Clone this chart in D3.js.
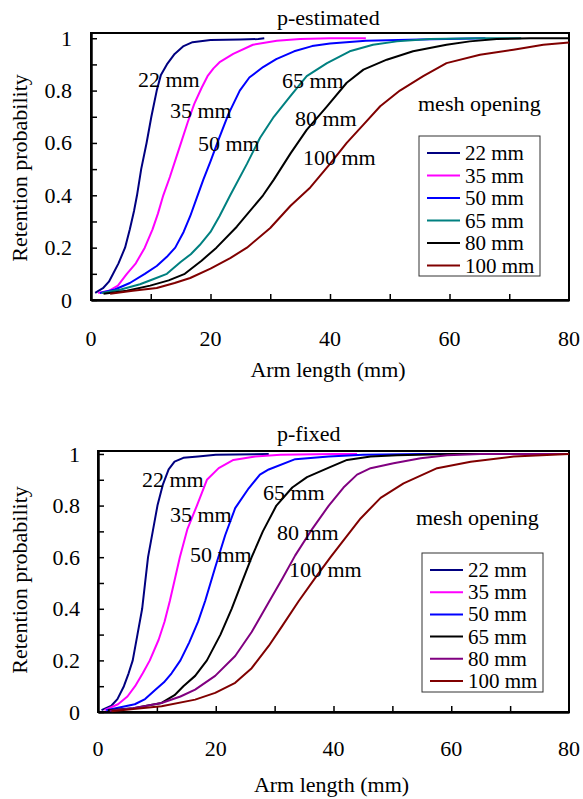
<!DOCTYPE html>
<html>
<head>
<meta charset="utf-8">
<script src="https://cdn.jsdelivr.net/npm/d3@7"></script>
<style>
  body { margin: 0; background: #fff; }
  svg text { font-family: "Liberation Serif", "Times New Roman", serif; font-size: 22px; fill: #000; }
  svg text.leg { font-size: 21px; }
</style>
</head>
<body>
<svg id="chart" width="583" height="799"></svg>
<script>
// mesh openings (legend / series names)
const meshes = ["22 mm", "35 mm", "50 mm", "65 mm", "80 mm", "100 mm"];

// p-estimated : [arm length (mm), retention probability]
const est22 = [[0.7,0.027],[2,0.045],[3,0.07],[3.7,0.1],[4.6,0.14],[5.7,0.2],[6.5,0.27],[7.2,0.34],[7.7,0.4],[8.4,0.5],[9.3,0.6],[10.1,0.7],[11,0.8],[11.7,0.86],[12.7,0.9],[14,0.94],[15.5,0.97],[17,0.985],[20,0.993],[25,0.995],[28,0.997],[29,1]];
const est35 = [[1.2,0.027],[3,0.035],[4.5,0.055],[6,0.1],[7.5,0.14],[9,0.2],[10.3,0.27],[11.2,0.33],[12.1,0.4],[13.2,0.47],[14.2,0.54],[15.2,0.61],[16.2,0.68],[17.3,0.75],[18.5,0.81],[19.5,0.855],[20.5,0.885],[21.6,0.91],[23.8,0.94],[27.1,0.975],[31.1,0.99],[35,0.997],[40,1],[46,1]];
const est50 = [[1.5,0.027],[4,0.04],[6.5,0.065],[9,0.1],[11,0.13],[12.7,0.165],[14.1,0.2],[15.5,0.26],[16.6,0.32],[17.7,0.39],[18.8,0.46],[20,0.53],[21.3,0.61],[23,0.71],[24.9,0.8],[26.5,0.85],[28.8,0.89],[31,0.92],[34,0.95],[37,0.97],[40,0.98],[46,0.99],[55,0.995],[66,1]];
const est65 = [[1.8,0.027],[5,0.04],[8.2,0.06],[10.5,0.08],[12.7,0.1],[15,0.145],[16.7,0.175],[18.2,0.21],[20,0.26],[21.5,0.32],[23.3,0.4],[26.1,0.52],[28.3,0.62],[30.6,0.7],[33.4,0.78],[36.1,0.855],[39.5,0.905],[43.3,0.95],[47.2,0.975],[51.2,0.988],[56.7,0.997],[65,1],[72,1]];
const est80 = [[2.1,0.024],[6,0.035],[9.9,0.055],[13,0.075],[15.7,0.1],[18.5,0.15],[21,0.2],[24.4,0.28],[28.8,0.4],[30.6,0.46],[33.4,0.56],[36.1,0.65],[39.5,0.74],[42.8,0.83],[45.6,0.88],[49.5,0.918],[53.9,0.95],[59.5,0.975],[63.4,0.988],[67.9,0.997],[73.5,1],[80,1]];
const est100 = [[3.2,0.024],[7,0.035],[11,0.046],[14,0.065],[16.6,0.084],[20,0.12],[23.3,0.16],[26.1,0.2],[30,0.275],[33.4,0.36],[36.7,0.43],[40,0.52],[42.8,0.6],[45.6,0.67],[48.4,0.74],[51.7,0.8],[55.6,0.855],[59.5,0.905],[65.1,0.937],[70.7,0.956],[75.7,0.975],[80,0.984]];

// p-fixed : [arm length (mm), retention probability]
const fix22 = [[0.6,0.007],[2.3,0.025],[3.3,0.05],[4.4,0.1],[5.2,0.15],[5.9,0.2],[6.7,0.3],[7.5,0.4],[8,0.5],[8.5,0.6],[9.3,0.7],[10.1,0.8],[11,0.88],[12,0.94],[13,0.97],[14.5,0.985],[17,0.99],[20,0.997],[29,1]];
const fix35 = [[1.1,0.007],[3.4,0.03],[5,0.06],[6.3,0.1],[7.6,0.15],[8.8,0.2],[10.3,0.28],[11.3,0.35],[12.2,0.43],[13,0.51],[13.9,0.6],[15.2,0.71],[16.8,0.8],[18.5,0.9],[20.5,0.945],[23,0.977],[26.7,0.99],[31,0.997],[40,1],[44,1]];
const fix50 = [[1.4,0.007],[6.25,0.03],[8,0.05],[9.7,0.085],[11.2,0.115],[12.5,0.15],[14,0.2],[15.5,0.27],[17,0.35],[18.2,0.43],[19.9,0.56],[21.6,0.685],[23.3,0.79],[25.6,0.867],[27.5,0.92],[29,0.94],[33.5,0.98],[39.2,0.99],[45,0.997],[55,1],[80,1]];
const fix65 = [[1.7,0.007],[6,0.015],[10.8,0.035],[13,0.065],[14.5,0.1],[16.5,0.14],[18.5,0.2],[20.8,0.3],[22.7,0.4],[24.4,0.5],[26.1,0.6],[28,0.7],[30.3,0.8],[33,0.87],[35.5,0.91],[39.5,0.95],[42.3,0.977],[46.3,0.99],[50.8,0.995],[60,1],[80,1]];
const fix80 = [[2,0.005],[6,0.015],[10.8,0.035],[14,0.06],[16.5,0.087],[19.9,0.14],[23.3,0.217],[26.1,0.31],[29,0.425],[31.3,0.516],[33.5,0.607],[36.4,0.71],[39.2,0.8],[41.7,0.87],[44,0.92],[46.3,0.945],[50.2,0.964],[54.8,0.983],[59.3,0.995],[65,1],[80,1]];
const fix100 = [[2.3,0.003],[6,0.012],[10.8,0.022],[16.5,0.048],[19.9,0.074],[23.3,0.113],[26.1,0.17],[29,0.256],[31.3,0.334],[34.1,0.43],[36.9,0.52],[39.5,0.6],[41.7,0.665],[44.6,0.75],[48,0.83],[51.9,0.886],[57.6,0.945],[63.3,0.97],[70.6,0.99],[80,1]];

// axis ticks
const xTicks = [10, 20, 30, 40, 50, 60, 70];
const xLabels = [0, 20, 40, 60, 80];
const yTicks = [0, 0.1, 0.2, 0.3, 0.4, 0.5, 0.6, 0.7, 0.8, 0.9, 1];
const yLabels = [0, 0.2, 0.4, 0.6, 0.8, 1];

const estColors = ["#000080", "#ff00ff", "#0000ff", "#008080", "#000000", "#800000"];
const fixColors = ["#000080", "#ff00ff", "#0000ff", "#000000", "#800080", "#800000"];

const svg = d3.select("#chart");

function drawPanel(p) {
    const g = svg.append("g");

    const x = d3.scaleLinear().domain([0, 80]).range([p.left, p.right]);
    const y = d3.scaleLinear().domain([0, p.yMax]).range([p.bottom, p.top]);

    // frame
    g.append("rect")
        .attr("x", p.left).attr("y", p.top)
        .attr("width", p.right - p.left).attr("height", p.bottom - p.top)
        .attr("fill", "none").attr("stroke", "#000").attr("stroke-width", 2);

    // y axis (inward ticks)
    const yAxis = g.append("g")
        .attr("transform", "translate(" + p.left + ",0)")
        .call(d3.axisLeft(y).tickValues(yTicks).tickSizeInner(-6).tickSizeOuter(0)
            .tickPadding(p.yPad)
            .tickFormat(function (d) {
                return yLabels.some(v => Math.abs(v - d) < 1e-9) ? String(+d.toFixed(1)) : "";
            }));
    yAxis.select(".domain").attr("stroke-width", 2.5);
    yAxis.selectAll("line").attr("stroke-width", 1.5);
    yAxis.selectAll("text").attr("font-size", null).attr("font-family", null);

    // x axis: ticks every 10, labels every 20
    const xAxis = g.append("g")
        .attr("transform", "translate(0," + p.bottom + ")")
        .call(d3.axisBottom(x).tickValues(xTicks).tickSizeInner(-6).tickSizeOuter(0)
            .tickFormat(""));
    xAxis.select(".domain").attr("stroke-width", 2.5);
    xAxis.selectAll("line").attr("stroke-width", 1.5);
    g.selectAll(".xlab")
        .data(xLabels)
        .enter()
        .append("text")
        .attr("x", d => x(d))
        .attr("y", p.bottom + p.xPad)
        .attr("text-anchor", "middle")
        .text(d => d);

    // curves
    const line = d3.line().x(d => x(d[0])).y(d => y(d[1]));
    p.series.forEach(function (s, i) {
        g.append("path")
            .datum(s)
            .attr("d", line)
            .attr("fill", "none")
            .attr("stroke", p.colors[i])
            .attr("stroke-width", 2)
            .attr("stroke-linejoin", "round");
    });

    // curve labels
    p.labels.forEach(function (l, i) {
        g.append("text").attr("x", l[0]).attr("y", l[1]).text(meshes[i]);
    });

    // titles
    g.append("text").attr("x", p.titleX).attr("y", p.titleY).text(p.title);
    g.append("text")
        .attr("x", (p.left + p.right) / 2 - 2)
        .attr("y", p.bottom + p.xTitlePad)
        .attr("text-anchor", "middle")
        .text("Arm length (mm)");
    g.append("text")
        .attr("transform", "translate(" + p.yTitleX + "," + p.yTitleY + ") rotate(-90)")
        .attr("text-anchor", "middle")
        .text("Retention probability");

    // legend
    g.append("text").attr("x", p.meshX).attr("y", p.meshY).text("mesh opening");
    g.append("rect")
        .attr("x", p.leg[0]).attr("y", p.leg[1])
        .attr("width", p.leg[2]).attr("height", p.leg[3])
        .attr("fill", "#fff").attr("stroke", "#333").attr("stroke-width", 1);
    meshes.forEach(function (m, i) {
        const cy = p.leg[1] + 17 + i * p.legStep;
        g.append("line")
            .attr("x1", p.leg[0] + 8).attr("x2", p.leg[0] + 41)
            .attr("y1", cy).attr("y2", cy)
            .attr("stroke", p.colors[i]).attr("stroke-width", 2);
        g.append("text").attr("class", "leg")
            .attr("x", p.leg[0] + 46).attr("y", cy + 7).text(m);
    });
}

drawPanel({
    title: "p-estimated", titleX: 277, titleY: 25,
    left: 91, right: 569, top: 33, bottom: 300, yMax: 1.02,
    yPad: 19, xPad: 46, xTitlePad: 77, yTitleX: 27, yTitleY: 168,
    series: [est22, est35, est50, est65, est80, est100], colors: estColors,
    labels: [[138, 87], [170, 118], [198, 151], [282, 88], [295, 126], [303, 165]],
    meshX: 418, meshY: 111,
    leg: [419, 136, 121, 140], legStep: 22.5
});

drawPanel({
    title: "p-fixed", titleX: 277, titleY: 441,
    left: 98, right: 569, top: 451, bottom: 712, yMax: 1.0115,
    yPad: 18, xPad: 44, xTitlePad: 80, yTitleX: 27, yTitleY: 580,
    series: [fix22, fix35, fix50, fix65, fix80, fix100], colors: fixColors,
    labels: [[142, 487], [170, 522], [190, 562], [263, 500], [277, 540], [289, 577]],
    meshX: 416, meshY: 525,
    leg: [422, 553, 121, 139], legStep: 22.2
});
</script>
</body>
</html>
